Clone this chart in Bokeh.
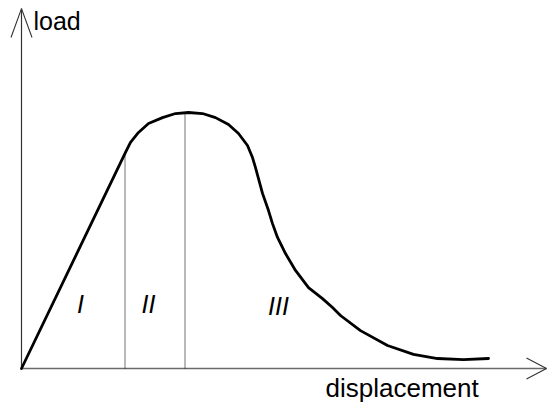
from bokeh.plotting import figure
from bokeh.models import Range1d, Label
from bokeh.embed import file_html
from bokeh.resources import INLINE

# ---- data (arbitrary units: displacement, load with peak = 100) ----
displacement = [0, 20.8, 21.8, 23.4, 25.4, 28.2, 30.8, 33.4, 36.2, 38.8, 41.4,
                43.4, 45.2, 46.2, 46.8, 48.2, 49.4, 50.2, 51.2, 52.8, 54.8,
                57.4, 60.2, 62.2, 63.8, 67.8, 73.2, 78.4, 83.2, 88.4, 93.4]
load = [0, 84.4, 88.3, 92.2, 95.7, 98.0, 99.6, 100.0, 99.6, 98.0, 95.3,
        91.8, 87.1, 82.4, 78.5, 68.4, 61.7, 56.6, 51.2, 44.9, 38.3,
        31.6, 27.3, 23.8, 20.7, 14.8, 9.0, 5.5, 3.9, 3.5, 3.9]

# region boundaries (dotted verticals) and their heights
boundary_x = [20.7, 32.7]
boundary_top = [84.2, 100.0]

# region labels
region_names = ["I", "II", "III"]
region_x = [11.8, 25.4, 51.4]
region_y = [25.0, 25.0, 24.3]

# axis extents
x_axis_end = 105.0
y_axis_end = 140.6

W, H = 547, 403
p = figure(width=W, height=H,
           x_range=Range1d(-4.2, 105.2), y_range=Range1d(-13.672, 143.75),
           output_backend="svg", toolbar_location=None,
           x_axis_type=None, y_axis_type=None, min_border=0)
p.grid.visible = False
p.outline_line_color = None
p.background_fill_color = "white"
p.border_fill_color = "white"

# axes
p.line([0, x_axis_end], [0, 0], line_color="#6a6a6a", line_width=1.6)
p.line([0, 0], [0, y_axis_end], line_color="#333333", line_width=1.2)

# arrow heads
hx_len, hx_half = 4.0, 4.1
hy_len, hy_half = 11.3, 2.1
p.multi_line(xs=[[x_axis_end - hx_len, x_axis_end, x_axis_end - hx_len]],
             ys=[[hx_half, 0, -hx_half]], line_color="#333333", line_width=1.1)
p.multi_line(xs=[[-hy_half, 0, hy_half]],
             ys=[[y_axis_end - hy_len, y_axis_end, y_axis_end - hy_len]],
             line_color="#333333", line_width=1.1)

# dotted boundaries
p.segment(x0=boundary_x, y0=[0, 0], x1=boundary_x, y1=boundary_top,
          line_color="#2a2a2a", line_width=1.3, line_dash="1 1")

# curve
p.line(displacement, load, line_color="black", line_width=2.8,
       line_join="round", line_cap="round")

font = "Liberation Sans"
for name, x, y in zip(region_names, region_x, region_y):
    p.add_layout(Label(x=x, y=y, text=name, text_font=font,
                       text_font_size="25px", text_font_style="italic",
                       text_align="center", text_baseline="alphabetic",
                       text_color="black"))

p.add_layout(Label(x=2.4, y=135.9, text="load", text_font=font,
                   text_font_size="25px", text_align="left",
                   text_baseline="alphabetic", text_color="black"))
p.add_layout(Label(x=60.8, y=-7.8, text="displacement", text_font=font,
                   text_font_size="26px", text_align="left",
                   text_baseline="alphabetic", text_color="black"))

open("out.html", "w").write(file_html(p, INLINE))
